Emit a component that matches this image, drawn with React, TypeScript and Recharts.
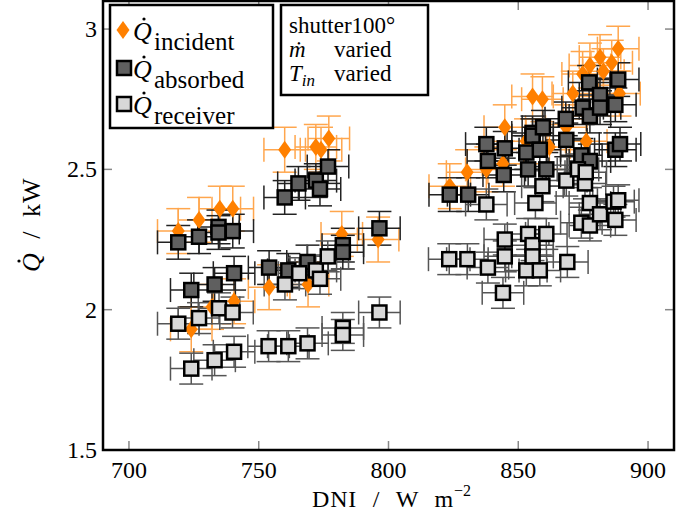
import { ScatterChart, Scatter, XAxis, YAxis, ErrorBar } from "recharts";

// incident heat flow (orange diamonds)
const incidentX = [719, 724, 727, 732, 735, 740, 740.5, 754, 760, 769, 772, 774, 777, 782, 796,
  823.6, 830.3, 837.7, 844.1, 844.8, 853, 855.5, 859.3, 862, 868.5, 871, 874.8, 876.2, 877.6, 881.5, 882.8, 886, 888.5, 889];
const incidentY = [2.28, 1.93, 2.32, 2.01, 2.36, 2.36, 2.03, 2.08, 2.57, 2.09, 2.58, 2.57, 2.61, 2.27, 2.25,
  2.44, 2.49, 2.5, 2.52, 2.65, 2.6, 2.76, 2.75, 2.58, 2.65, 2.77, 2.84, 2.6, 2.87, 2.9, 2.85, 2.88, 2.93, 2.77];

// absorbed (dark squares)
const absorbedX = [719, 724, 727, 733, 734.5, 734.5, 740, 740.5, 754, 760, 761.4, 765.3, 768.8, 772, 773.6, 776.7, 782.4, 782.4, 796.5,
  823.6, 830.7, 837.7, 838.3, 844.4, 844.8, 853.1, 853.8, 855.5, 855.5, 858.3, 859.5, 860.8, 868.3, 868.5, 874.3, 874.8, 877.3, 877.6, 877.6, 881.5, 881.5, 887.4, 887.4, 888.5, 889.2];
const absorbedY = [2.24, 2.07, 2.26, 2.09, 2.295, 2.275, 2.28, 2.13, 2.15, 2.4, 2.14, 2.45, 2.17, 2.46, 2.43, 2.51, 2.23, 2.205, 2.29,
  2.41, 2.41, 2.59, 2.53, 2.48, 2.575, 2.56, 2.5, 2.63, 2.62, 2.57, 2.65, 2.5, 2.68, 2.605, 2.55, 2.72, 2.81, 2.69, 2.53, 2.765, 2.72, 2.73, 2.57, 2.82, 2.59];

// receiver (light squares)
const receiverX = [719, 724, 727, 733, 734.7, 739.9, 740.5, 753.8, 760.1, 761.4, 765.6, 768.8, 772, 773.6, 776.6, 782.4, 782.4, 796.5,
  823.4, 830.4, 837.7, 838.3, 844.1, 844.8, 844.8, 853.1, 853.8, 855.5, 855.5, 856.6, 858.3, 859.3, 860.8, 868.5, 868.9, 873, 874.3, 875.7, 876, 877.6, 877.6, 881.5, 886.7, 887.4, 888.5];
const receiverY = [1.95, 1.79, 1.97, 1.82, 2.005, 1.99, 1.85, 1.87, 2.09, 1.87, 2.13, 1.88, 2.14, 2.11, 2.19, 1.935, 1.91, 1.99,
  2.18, 2.18, 2.375, 2.15, 2.06, 2.25, 2.19, 2.14, 2.27, 2.23, 2.19, 2.38, 2.14, 2.44, 2.27, 2.46, 2.17, 2.5, 2.31, 2.45, 2.49, 2.38, 2.3, 2.34, 2.385, 2.32, 2.39];

// measurement uncertainties
const dniErr = 8;
const incidentErr = 0.08;
const absorbedErr = 0.06;
const receiverErr = 0.055;

const xTicks = [700, 750, 800, 850, 900];
const yTicks = [1.5, 2, 2.5, 3];

const toPoints = (xs: number[], ys: number[], ey: number) =>
  xs.map((x, i) => ({ x, y: ys[i], ex: dniErr, ey }));

const incident = toPoints(incidentX, incidentY, incidentErr);
const absorbed = toPoints(absorbedX, absorbedY, absorbedErr);
const receiver = toPoints(receiverX, receiverY, receiverErr);

const W = 700;
const H = 521;
const PLOT = { left: 103, right: 674, top: 1, bottom: 450 };
const FONT = "'Liberation Serif', 'DejaVu Serif', serif";
const ORANGE = "#ff8000";
const DARK = "#5f5f5f";
const LIGHT = "#d8d8d8";

const Diamond = (p: any) => (
  <path
    d={`M${p.cx},${p.cy - 9} L${p.cx + 6.5},${p.cy} L${p.cx},${p.cy + 9} L${p.cx - 6.5},${p.cy} Z`}
    fill={ORANGE}
  />
);

const square = (fill: string) => (p: any) => (
  <rect x={p.cx - 7} y={p.cy - 7} width={14} height={14} fill={fill} stroke="#000" strokeWidth={2.5} />
);

const XTick = ({ x, payload }: any) => (
  <g>
    <line x1={x} x2={x} y1={PLOT.bottom} y2={PLOT.bottom - 9} stroke="#888" strokeWidth={1.5} />
    <line x1={x} x2={x} y1={PLOT.top} y2={PLOT.top + 9} stroke="#888" strokeWidth={1.5} />
    <text x={x} y={PLOT.bottom + 28} textAnchor="middle" fontSize={24} fontFamily={FONT} fill="#000">
      {payload.value}
    </text>
  </g>
);

const YTick = ({ y, payload }: any) => (
  <g>
    <line x1={PLOT.left} x2={PLOT.left + 9} y1={y} y2={y} stroke="#888" strokeWidth={1.5} />
    <line x1={PLOT.right} x2={PLOT.right - 9} y1={y} y2={y} stroke="#888" strokeWidth={1.5} />
    <text x={97} y={y + 8} textAnchor="end" fontSize={24} fontFamily={FONT} fill="#000">
      {payload.value}
    </text>
  </g>
);

const Qdot = ({ x, y, sub }: { x: number; y: number; sub: string }) => (
  <g>
    <text x={x} y={y} fontSize={26} fontStyle="italic" fontFamily={FONT}>Q</text>
    <circle cx={x + 11} cy={y - 21} r={1.6} fill="#000" />
    <text x={x + 21} y={y + 10} fontSize={25} fontFamily={FONT}>{sub}</text>
  </g>
);

function Overlay() {
  return (
    <svg width={W} height={H} style={{ position: "absolute", left: 0, top: 0, pointerEvents: "none" }}>
      <rect x={PLOT.left} y={PLOT.top} width={PLOT.right - PLOT.left} height={PLOT.bottom - PLOT.top}
        fill="none" stroke="#000" strokeWidth={2.5} />

      {/* legend */}
      <rect x={110} y={5} width={163} height={123} fill="#fff" stroke="#000" strokeWidth={2.5} />
      <path d="M123,21 L129.5,30 L123,39 L116.5,30 Z" fill={ORANGE} />
      <Qdot x={133} y={40} sub="incident" />
      <rect x={117} y={61} width={14} height={14} fill={DARK} stroke="#000" strokeWidth={2.5} />
      <Qdot x={133} y={78} sub="absorbed" />
      <rect x={117} y={97} width={14} height={14} fill={LIGHT} stroke="#000" strokeWidth={2.5} />
      <Qdot x={133} y={114} sub="receiver" />

      {/* run conditions */}
      <rect x={281} y={5} width={147} height={90} fill="#fff" stroke="#000" strokeWidth={2.5} />
      <text x={289} y={33} fontSize={23} fontFamily={FONT}>shutter100°</text>
      <text x={289} y={57} fontSize={23} fontFamily={FONT}>
        <tspan fontStyle="italic">ṁ</tspan>
      </text>
      <text x={334} y={57} fontSize={23} fontFamily={FONT}>varied</text>
      <text x={289} y={81} fontSize={23} fontFamily={FONT}>
        <tspan fontStyle="italic">T</tspan>
        <tspan fontStyle="italic" fontSize={17} dy={5}>in</tspan>
      </text>
      <text x={334} y={81} fontSize={23} fontFamily={FONT}>varied</text>

      {/* axis titles */}
      <text x={312} y={507} fontSize={24} fontFamily={FONT} wordSpacing={9} letterSpacing={0.8}>
        DNI / W m<tspan fontSize={16} dy={-11} letterSpacing={0}>−2</tspan>
      </text>
      <g transform="translate(40,272) rotate(-90)">
        <text x={0} y={0} fontSize={26} fontFamily={FONT} wordSpacing={6} letterSpacing={1}>
          <tspan fontStyle="italic">Q</tspan>
          <tspan> / kW</tspan>
        </text>
        <circle cx={11} cy={-21} r={1.6} fill="#000" />
      </g>
    </svg>
  );
}

export default function App() {
  return (
    <div style={{ position: "fixed", left: 0, top: 0, width: W, height: H, background: "#fff" }}>
      <ScatterChart
        width={W}
        height={H}
        margin={{ top: PLOT.top, right: W - PLOT.right, bottom: H - PLOT.bottom - 40, left: PLOT.left - 60 }}
      >
        <XAxis type="number" dataKey="x" domain={[690, 910]} ticks={xTicks} height={40}
          axisLine={false} tickLine={false} tick={<XTick />} interval={0} />
        <YAxis type="number" dataKey="y" domain={[1.5, 3.1]} ticks={yTicks} width={60}
          axisLine={false} tickLine={false} tick={<YTick />} interval={0} />
        <Scatter data={incident} shape={Diamond} isAnimationActive={false}>
          <ErrorBar dataKey="ey" direction="y" width={12} stroke="#ffa64d" strokeWidth={1.5} />
          <ErrorBar dataKey="ex" direction="x" width={12} stroke="#ffa64d" strokeWidth={1.5} />
        </Scatter>
        <Scatter data={absorbed} shape={square(DARK)} isAnimationActive={false}>
          <ErrorBar dataKey="ey" direction="y" width={12} stroke="#222" strokeWidth={1.5} />
          <ErrorBar dataKey="ex" direction="x" width={12} stroke="#222" strokeWidth={1.5} />
        </Scatter>
        <Scatter data={receiver} shape={square(LIGHT)} isAnimationActive={false}>
          <ErrorBar dataKey="ey" direction="y" width={12} stroke="#555" strokeWidth={1.5} />
          <ErrorBar dataKey="ex" direction="x" width={12} stroke="#555" strokeWidth={1.5} />
        </Scatter>
      </ScatterChart>
      <Overlay />
    </div>
  );
}
